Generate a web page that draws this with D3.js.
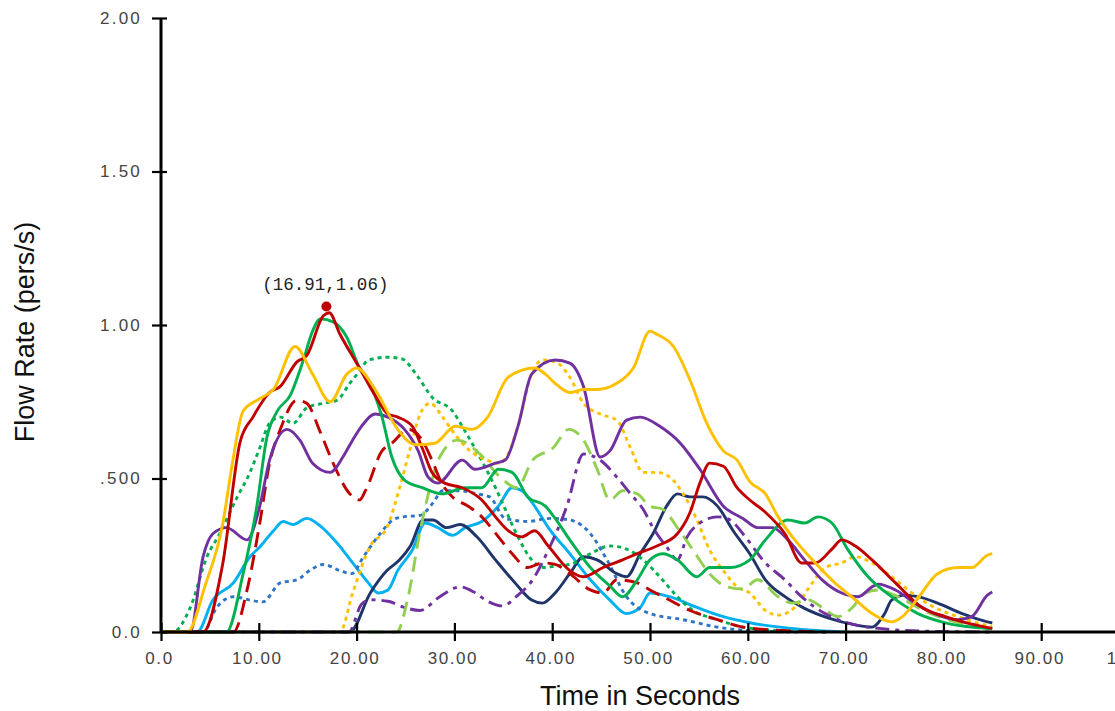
<!DOCTYPE html>
<html>
<head>
<meta charset="utf-8">
<script src="https://cdn.jsdelivr.net/npm/d3@7"></script>
<style>
  body { margin: 0; background: #fff; overflow: hidden; }
  svg { display: block; }
</style>
</head>
<body>
<div id="chart-area"></div>
<script>
// values, [time (s), flow rate (pers/s)]
const yellowSolid = [[0,0],[2.7,0],[4.5,0.15],[6.3,0.35],[7.3,0.55],[8.4,0.72],[10.1,0.76],[11.5,0.79],[13.7,0.93],[15.5,0.84],[17.3,0.75],[19,0.84],[20,0.86],[21.9,0.79],[24.2,0.66],[26,0.61],[28,0.615],[30.1,0.67],[31.8,0.66],[33.4,0.7],[35.5,0.83],[38.2,0.86],[39.3,0.84],[40.3,0.81],[41.8,0.78],[43.2,0.79],[44.6,0.79],[46.6,0.81],[48.3,0.86],[50,0.98],[50.7,0.97],[52.4,0.93],[54.1,0.82],[55.8,0.68],[57.5,0.59],[58.9,0.56],[60.2,0.49],[61.8,0.45],[63.1,0.375],[64.8,0.3],[66.6,0.235],[68.9,0.16],[71,0.105],[72.7,0.06],[74.7,0.033],[75.8,0.05],[77.4,0.11],[79.4,0.19],[81.5,0.21],[82.9,0.21],[84.5,0.25],[85,0.255]]
const redSolid = [[0,0],[4.3,0],[6.3,0.22],[8.1,0.62],[9.4,0.7],[11.1,0.78],[12.2,0.8],[13.9,0.88],[14.9,0.9],[16.6,1.03],[17.2,1.04],[18.3,0.97],[20.3,0.86],[21.9,0.77],[23.2,0.71],[24.2,0.7],[25.7,0.67],[26.7,0.6],[27.7,0.52],[29,0.485],[30.8,0.47],[32.8,0.43],[34.2,0.375],[35.5,0.33],[36.9,0.31],[38.2,0.33],[39.6,0.28],[41.8,0.2],[43.2,0.18],[45.2,0.21],[47.2,0.235],[48.7,0.255],[50.7,0.28],[52.8,0.32],[54.1,0.39],[55.1,0.485],[56.1,0.55],[57.5,0.54],[58.9,0.47],[60.2,0.43],[61.8,0.39],[63.8,0.32],[65.5,0.225],[66.9,0.225],[68.6,0.27],[69.6,0.3],[71,0.28],[72.7,0.235],[75.1,0.16],[77.8,0.08],[80.2,0.05],[84.3,0.016],[85,0.012]]
const greenSolid = [[0,0],[6.7,0],[8.4,0.19],[9.8,0.41],[10.8,0.63],[11.9,0.72],[13.2,0.77],[14.5,0.88],[15.5,0.98],[16.3,1.02],[17.6,1.01],[19,0.96],[20.3,0.86],[21.2,0.82],[22.6,0.7],[23.6,0.57],[24.9,0.495],[26.7,0.47],[28.7,0.45],[31.1,0.47],[32.8,0.47],[34.5,0.53],[35.9,0.52],[37.5,0.44],[39.3,0.41],[40.3,0.37],[41.8,0.3],[43.9,0.21],[45.9,0.15],[47.2,0.115],[48.7,0.17],[50,0.235],[51.3,0.255],[52.8,0.235],[54.8,0.18],[56.1,0.21],[58.2,0.21],[60.2,0.235],[61.8,0.3],[64.1,0.365],[65.8,0.355],[67.2,0.375],[68.6,0.355],[70.2,0.27],[72.3,0.18],[74.7,0.115],[77.4,0.06],[80.2,0.03],[84.3,0.012],[85,0.01]]
const greenDotted = [[0,0],[1.2,0],[3,0.08],[4.7,0.245],[6,0.32],[7.8,0.44],[9.1,0.52],[10.1,0.6],[11.1,0.68],[12.2,0.7],[13.5,0.68],[14.9,0.73],[16.6,0.745],[18,0.755],[19.3,0.81],[20.3,0.85],[21.2,0.886],[23.2,0.895],[24.6,0.89],[26.3,0.83],[27.7,0.765],[29.8,0.72],[30.8,0.67],[31.8,0.615],[33.1,0.54],[34.2,0.47],[35.2,0.4],[36.5,0.31],[37.9,0.235],[39.3,0.21],[40.3,0.215],[41.8,0.22],[43.9,0.255],[45.9,0.28],[47.6,0.27],[49.3,0.235],[51,0.18],[52.8,0.115],[54.4,0.07],[56.9,0.04],[59.5,0.016],[63,0.005],[68,0]]
const purpleSolid = [[0,0],[3,0],[4.3,0.245],[5.3,0.32],[6.7,0.34],[8.8,0.3],[10.1,0.41],[11.1,0.56],[12.9,0.66],[14.2,0.625],[15.5,0.55],[17.3,0.52],[18.6,0.57],[19.5,0.62],[20.5,0.67],[21.9,0.71],[23.2,0.7],[24.9,0.66],[26.3,0.59],[27.3,0.505],[28.3,0.485],[30.8,0.56],[32.1,0.53],[34.2,0.55],[35.2,0.56],[36.5,0.67],[37.9,0.84],[40.3,0.886],[41.8,0.876],[43.2,0.8],[44.9,0.57],[45.9,0.59],[47.6,0.69],[49,0.7],[51,0.67],[53.1,0.615],[55.1,0.53],[57.5,0.41],[59.5,0.37],[61,0.34],[62.5,0.34],[64.1,0.3],[65.8,0.235],[67.6,0.17],[69.6,0.127],[71.3,0.115],[72.7,0.147],[73.3,0.156],[75.1,0.137],[77.1,0.094],[79.1,0.06],[81.5,0.04],[82.9,0.05],[84.5,0.12],[85,0.13]]
const redDashed = [[0,0],[7.4,0],[8.8,0.137],[10.1,0.355],[11.1,0.55],[12.2,0.66],[13.9,0.755],[14.9,0.745],[16.3,0.65],[17.6,0.55],[19.3,0.45],[20.3,0.43],[20.9,0.46],[22.6,0.59],[23.6,0.615],[25.3,0.66],[26.7,0.625],[27.7,0.56],[28.7,0.485],[29.8,0.44],[31.4,0.41],[32.8,0.375],[34.5,0.31],[35.9,0.255],[37.5,0.21],[39,0.225],[40.3,0.22],[41.8,0.19],[43.9,0.137],[45.2,0.127],[46.6,0.17],[48.7,0.16],[50,0.137],[52,0.104],[54.1,0.07],[56.9,0.04],[59.5,0.016],[64,0.004],[68,0]]
const lightBlueSolid = [[0,0],[3.7,0],[5.3,0.104],[7.4,0.16],[9.1,0.245],[10.1,0.277],[11.5,0.33],[12.5,0.36],[13.5,0.35],[14.9,0.37],[16.3,0.345],[18,0.29],[19.6,0.225],[21.2,0.16],[22.2,0.127],[23.2,0.137],[24.2,0.2],[25.7,0.267],[27,0.355],[28.3,0.34],[29.8,0.315],[31.1,0.34],[32.8,0.36],[34.5,0.41],[35.9,0.47],[36.9,0.46],[38.2,0.41],[39.6,0.34],[41.8,0.255],[43.9,0.17],[45.9,0.104],[47.6,0.06],[49,0.08],[50,0.127],[52,0.115],[54.8,0.08],[57.5,0.05],[60.2,0.03],[65,0.01],[70,0]]
const blueDotted = [[0,0],[4.3,0],[5.7,0.08],[7.4,0.115],[9.1,0.104],[10.4,0.098],[12.2,0.16],[13.9,0.17],[15.2,0.2],[16.6,0.22],[18.3,0.2],[19.5,0.19],[20.7,0.245],[22.4,0.32],[23.7,0.365],[24.7,0.375],[26.5,0.38],[27.8,0.42],[28.8,0.46],[30.6,0.46],[32.3,0.45],[33.6,0.44],[35.2,0.37],[37.5,0.36],[39.8,0.37],[41.8,0.365],[43.9,0.32],[45.6,0.235],[47.6,0.115],[50,0.06],[53.4,0.04],[56.9,0.016],[59.5,0.006],[65,0]]
const yellowDotted = [[0,0],[18.3,0],[19.6,0.127],[21.4,0.28],[23.1,0.34],[24.4,0.47],[25.5,0.6],[26.5,0.71],[27.5,0.745],[28.8,0.7],[29.9,0.65],[31.6,0.59],[33.3,0.56],[34.5,0.55],[35.5,0.58],[36.5,0.67],[37.9,0.84],[39,0.886],[40.3,0.88],[41.8,0.83],[43.2,0.745],[44.9,0.71],[46.6,0.69],[48,0.6],[49.3,0.52],[50.7,0.52],[52,0.505],[53.4,0.45],[54.8,0.365],[56.1,0.267],[57.5,0.2],[58.9,0.147],[60.2,0.127],[61.8,0.07],[63.1,0.055],[64.8,0.08],[66.6,0.16],[67.9,0.21],[69.6,0.225],[71,0.245],[72.7,0.225],[74.7,0.18],[76.8,0.127],[79.1,0.08],[81.5,0.05],[84.3,0.023],[85,0.02]]
const navySolid = [[0,0],[19.3,0],[21.4,0.127],[23.1,0.2],[24.4,0.235],[25.5,0.28],[26.8,0.365],[27.8,0.365],[29.2,0.34],[30.6,0.35],[32.3,0.31],[34.2,0.235],[36.2,0.16],[37.9,0.104],[39,0.094],[40.3,0.127],[41.8,0.19],[43.2,0.245],[44.6,0.235],[46.6,0.19],[47.6,0.18],[49,0.255],[50.3,0.32],[51.7,0.41],[52.8,0.45],[54.1,0.44],[55.4,0.44],[56.9,0.41],[58.5,0.33],[60.2,0.255],[61.8,0.17],[63.8,0.115],[65.8,0.077],[68.2,0.046],[71,0.023],[72.7,0.016],[74,0.06],[74.7,0.104],[76.1,0.12],[77.4,0.115],[79.4,0.094],[81.9,0.06],[84.5,0.033],[85,0.03]]
const lightGreenDashed = [[0,0],[24.1,0],[25.2,0.104],[26.5,0.33],[27.5,0.47],[28.5,0.57],[30.3,0.625],[32.6,0.58],[34.5,0.51],[36.4,0.47],[38,0.56],[40.1,0.6],[41.7,0.66],[43.2,0.625],[44.6,0.53],[45.9,0.43],[47.2,0.46],[48.7,0.45],[50,0.41],[51.3,0.4],[52.8,0.34],[54.4,0.267],[56.1,0.19],[57.9,0.147],[59.5,0.14],[61,0.17],[63.1,0.115],[64.5,0.094],[66.2,0.104],[67.6,0.08],[69.2,0.05],[70.7,0.08],[72,0.127],[73.3,0.137],[75,0.12],[78,0.07],[81,0.035],[85,0.012]]
const purpleDashDot = [[0,0],[19.2,0],[20.5,0.09],[21.4,0.105],[23.2,0.1],[24.9,0.08],[26.5,0.07],[28.5,0.115],[30.6,0.147],[32,0.13],[33.4,0.1],[34.9,0.085],[36.5,0.12],[38,0.17],[39.5,0.26],[41.5,0.41],[43.2,0.58],[44.9,0.56],[46.6,0.505],[48,0.45],[49.3,0.4],[50.3,0.34],[51.7,0.277],[52.8,0.235],[53.8,0.31],[55.1,0.355],[56.9,0.375],[58.2,0.365],[59.5,0.32],[61.8,0.225],[63.8,0.17],[65.5,0.115],[67.9,0.06],[71,0.023],[74,0.01],[78,0.003],[85,0]]

const xTicks = [0, 10, 20, 30, 40, 50, 60, 70, 80, 90, 100]
const yTicks = [0, 0.5, 1.0, 1.5, 2.0]
const yTickLabels = ["0.0", ".500", "1.00", "1.50", "2.00"]
const peak = { t: 16.91, v: 1.06, label: "(16.91,1.06)" }

// drawing order, back to front
const SERIES = [
	{ data: lightBlueSolid, color: "#00b0f0", dash: null },
	{ data: blueDotted, color: "#2e75c6", dash: "4,4" },
	{ data: navySolid, color: "#1f3468", dash: null },
	{ data: greenDotted, color: "#00b050", dash: "4,4" },
	{ data: yellowDotted, color: "#ffc000", dash: "4,4" },
	{ data: lightGreenDashed, color: "#92d050", dash: "15,8" },
	{ data: purpleDashDot, color: "#7030a0", dash: "14,6,4,6" },
	{ data: redDashed, color: "#c00000", dash: "15,8" },
	{ data: purpleSolid, color: "#7030a0", dash: null },
	{ data: greenSolid, color: "#00b050", dash: null },
	{ data: redSolid, color: "#c00000", dash: null },
	{ data: yellowSolid, color: "#ffc000", dash: null }
]

const WIDTH = 1115
const HEIGHT = 711
const X0 = 161, X100 = 1139
const Y0 = 632, Y2 = 18

const svg = d3.select("#chart-area").append("svg")
	.attr("width", WIDTH)
	.attr("height", HEIGHT)

const x = d3.scaleLinear().domain([0, 100]).range([X0, X100])
const y = d3.scaleLinear().domain([0, 2]).range([Y0, Y2])

// Lines
const line = d3.line()
	.x(d => x(d[0]))
	.y(d => y(d[1]))
	.curve(d3.curveMonotoneX)

svg.append("g").selectAll("path")
	.data(SERIES)
	.enter().append("path")
	.attr("d", d => line(d.data))
	.attr("fill", "none")
	.attr("stroke", d => d.color)
	.attr("stroke-width", 2.9)
	.attr("stroke-linejoin", "round")
	.attr("stroke-dasharray", d => d.dash)

// X Axis (the last label is cut by the right edge, as in the original)
const xAxisCall = d3.axisBottom(x)
	.tickValues(xTicks)
	.tickSize(9)
	.tickPadding(11)
	.tickFormat(d => d === 0 ? "0.0" : d.toFixed(2))
const xAxis = svg.append("g")
	.attr("transform", `translate(0, ${Y0})`)
	.call(xAxisCall)
xAxis.select(".domain").remove()
xAxis.selectAll(".tick line")
	.attr("y1", -9)
	.attr("stroke", "#000")
	.attr("stroke-width", 2.2)
xAxis.selectAll(".tick text")
	.attr("fill", "#444")
	.attr("font-family", "'Liberation Sans Narrow', 'Arial Narrow', 'Liberation Sans', sans-serif")
	.attr("font-size", "17px")
	.attr("letter-spacing", "1.6px")
	.attr("dx", "-2")

// Y Axis
const yAxisCall = d3.axisLeft(y)
	.tickValues(yTicks)
	.tickSize(9)
	.tickPadding(10)
	.tickFormat((d, i) => yTickLabels[i])
const yAxis = svg.append("g")
	.attr("transform", `translate(${X0}, 0)`)
	.call(yAxisCall)
yAxis.select(".domain").remove()
yAxis.selectAll(".tick line")
	.attr("x2", 6)
	.attr("x1", -9)
	.attr("stroke", "#000")
	.attr("stroke-width", 2.2)
yAxis.selectAll(".tick text")
	.attr("fill", "#444")
	.attr("font-family", "'Liberation Sans', Arial, sans-serif")
	.attr("font-size", "17px")
	.attr("letter-spacing", "2.2px")

// axis lines
svg.append("line")
	.attr("x1", X0).attr("x2", WIDTH)
	.attr("y1", Y0).attr("y2", Y0)
	.attr("stroke", "#000").attr("stroke-width", 3)
svg.append("line")
	.attr("x1", X0).attr("x2", X0)
	.attr("y1", Y2).attr("y2", Y0 + 1.5)
	.attr("stroke", "#000").attr("stroke-width", 3)

// Peak marker
svg.append("circle")
	.attr("cx", x(peak.t))
	.attr("cy", y(peak.v))
	.attr("r", 5)
	.attr("fill", "#c00000")
svg.append("text")
	.attr("x", x(peak.t) - 1)
	.attr("y", y(peak.v) - 17)
	.attr("text-anchor", "middle")
	.attr("font-family", "'Liberation Mono', 'DejaVu Sans Mono', monospace")
	.attr("font-size", "17.5px")
	.attr("fill", "#222")
	.text(peak.label)

// Labels
svg.append("text")
	.attr("x", 640)
	.attr("y", 705)
	.attr("text-anchor", "middle")
	.attr("font-family", "'Liberation Sans', Arial, sans-serif")
	.attr("font-size", "27px")
	.attr("fill", "#111")
	.text("Time in Seconds")

svg.append("text")
	.attr("transform", "rotate(-90)")
	.attr("x", -332)
	.attr("y", 34)
	.attr("text-anchor", "middle")
	.attr("font-family", "'Liberation Sans', Arial, sans-serif")
	.attr("font-size", "27px")
	.attr("fill", "#111")
	.text("Flow Rate (pers/s)")
</script>
</body>
</html>
